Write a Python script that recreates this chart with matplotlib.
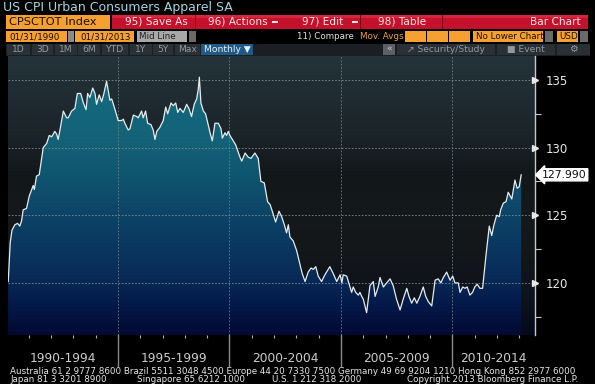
import numpy as np
import matplotlib
matplotlib.use("Agg")
from matplotlib import pyplot as plt
from matplotlib.patches import Rectangle, Polygon
from matplotlib.colors import LinearSegmentedColormap
import matplotlib.transforms as mtransforms

# CPI apparel (decimal year, index)
years = [1990.08, 1990.17, 1990.25, 1990.38, 1990.5, 1990.6, 1990.68, 1990.75, 1990.9,
         1991.02, 1991.2, 1991.25, 1991.35, 1991.47, 1991.65, 1991.8, 1991.92,
         1992.03, 1992.17, 1992.25, 1992.32, 1992.4, 1992.55, 1992.7, 1992.77, 1992.92,
         1993.07, 1993.18, 1993.33, 1993.45, 1993.57, 1993.64, 1993.74, 1993.87, 1993.97,
         1994.04, 1994.16, 1994.27, 1994.37, 1994.49, 1994.64, 1994.72, 1994.87,
         1995.01, 1995.17, 1995.24, 1995.31, 1995.46, 1995.54, 1995.69, 1995.84, 1995.91,
         1996.06, 1996.13, 1996.24, 1996.33, 1996.48, 1996.58, 1996.66, 1996.74, 1996.88,
         1997.03, 1997.14, 1997.23, 1997.38, 1997.48, 1997.59, 1997.68, 1997.78, 1997.93,
         1998.08, 1998.18, 1998.3, 1998.42, 1998.53, 1998.6, 1998.65, 1998.72, 1998.83, 1998.93,
         1999.13, 1999.23, 1999.35, 1999.5, 1999.62, 1999.68, 1999.8, 1999.87, 1999.95,
         2000.02, 2000.13, 2000.28, 2000.47, 2000.55, 2000.7, 2000.84, 2000.96,
         2001.14, 2001.29, 2001.41, 2001.56, 2001.71, 2001.82, 2001.92,
         2002.07, 2002.22, 2002.34, 2002.46, 2002.56, 2002.64, 2002.71, 2002.86,
         2003.01, 2003.16, 2003.26, 2003.39, 2003.53, 2003.66, 2003.76, 2003.87, 2003.98,
         2004.13, 2004.28, 2004.5, 2004.65, 2004.81, 2004.96,
         2005.04, 2005.1, 2005.26, 2005.33, 2005.48, 2005.55, 2005.66, 2005.78, 2005.85, 2005.93,
         2006.0, 2006.15, 2006.3, 2006.45, 2006.53, 2006.67, 2006.75, 2006.9,
         2007.05, 2007.2, 2007.34, 2007.49, 2007.65, 2007.79, 2007.95,
         2008.05, 2008.17, 2008.29, 2008.4, 2008.54, 2008.69, 2008.8, 2008.92,
         2009.07, 2009.22, 2009.36, 2009.48, 2009.59, 2009.74, 2009.89,
         2010.01, 2010.11, 2010.26, 2010.34, 2010.46, 2010.56, 2010.66, 2010.78, 2010.9,
         2011.0, 2011.11, 2011.23, 2011.35, 2011.5, 2011.65, 2011.76, 2011.86, 2011.98,
         2012.1, 2012.16, 2012.28, 2012.4, 2012.5, 2012.66, 2012.8, 2012.9, 2012.99, 2013.08]
cpi = [120.1, 123.0, 123.9, 124.3, 124.4, 124.2, 124.6, 125.4, 125.5,
       126.4, 127.2, 126.9, 127.9, 128.0, 130.0, 130.3, 130.9,
       130.8, 131.2, 131.0, 130.6, 131.3, 132.7, 132.2, 132.2, 132.7,
       132.9, 134.0, 134.0, 133.3, 132.8, 134.0, 133.7, 134.4, 134.0,
       133.2, 133.9, 133.4, 134.0, 134.9, 133.5, 133.6, 132.8,
       132.0, 132.0, 132.1, 131.8, 131.3, 131.4, 132.4, 132.3, 132.2,
       132.7, 132.2, 132.7, 131.8, 131.7, 131.3, 130.6, 131.2, 131.5,
       132.0, 133.0, 132.5, 133.3, 133.1, 133.3, 132.6, 132.9, 132.6,
       133.2, 132.9, 132.3, 133.2, 133.6, 134.3, 135.2, 133.3, 132.7, 132.5,
       131.1, 130.5, 131.8, 131.8, 131.4, 130.7, 131.1, 130.9, 131.2,
       130.9, 130.6, 130.2, 129.3, 129.0, 129.6, 129.3, 129.2,
       129.6, 129.2, 127.5, 127.4, 126.0, 125.8, 125.3,
       124.5, 125.3, 124.9, 124.3, 123.7, 124.3, 123.4, 123.1,
       122.4, 121.4, 120.7, 120.1, 120.8, 121.1, 121.0, 121.2, 120.5,
       120.1, 120.6, 121.2, 120.7, 120.1, 120.6,
       120.0, 120.6, 120.5, 120.1, 119.3, 119.7, 119.3, 119.1, 119.3, 119.0,
       118.8, 117.8, 119.8, 120.1, 119.0, 119.7, 120.4, 119.7,
       120.0, 120.3, 119.8, 118.8, 118.0, 118.8, 119.6,
       119.0, 118.5, 118.9, 118.5, 119.0, 119.7, 119.0, 118.6,
       118.3, 120.2, 120.3, 120.0, 120.4, 120.8, 120.2,
       120.5, 120.0, 120.0, 119.3, 119.7, 119.6, 119.7, 119.1, 119.3,
       119.7, 119.9, 119.6, 119.6, 122.0, 124.2, 123.5, 124.3, 125.0,
       124.9, 125.4, 125.9, 126.0, 126.7, 126.2, 127.6, 127.0, 127.1, 127.99]

y_ticks = [120, 125, 130, 135]
y_minor = [117.5, 122.5, 127.5, 132.5]
period_starts = [1995, 2000, 2005, 2010]
period_labels = ["1990-1994", "1995-1999", "2000-2004", "2005-2009", "2010-2014"]
last_label = "127.990"

W, H = 595, 384
fig = plt.figure(figsize=(W / 100, H / 100), dpi=100, facecolor="black")

# overlay in pixel coords for the terminal header/footer
ov = fig.add_axes([0, 0, 1, 1])
ov.set_xlim(0, W)
ov.set_ylim(H, 0)
ov.axis("off")


def box(x0, y0, x1, y1, fc, ec="none", lw=0):
    ov.add_patch(Rectangle((x0, y0), x1 - x0, y1 - y0, fc=fc, ec=ec, lw=lw))


def txt(x, y, s, color, size=7.5, ha="left", **kw):
    ov.text(x, y, s, color=color, fontsize=size, ha=ha, va="center", **kw)


# title row
txt(3, 7, "US CPI Urban Consumers Apparel SA", "#9fd6e2", 9.0)

# row 1: security box + red action bar
box(6, 15, 110, 29, "#f5a030")
txt(9, 22, "CPSCTOT Index", "#1a1000", 8.2)
box(112, 15, 588, 29, "#c4122c")
box(112, 15, 588, 18, "#d8253c")
for dx in [195, 360, 442]:
    box(dx, 15, dx + 1, 29, "#7a0010")
txt(125, 22, "95) Save As", "#f4e6e6", 7.6)
txt(208, 22, "96) Actions", "#f4e6e6", 7.6)
box(272, 21, 278, 23, "#f4e6e6")
txt(302, 22, "97) Edit", "#f4e6e6", 7.6)
box(352, 21, 358, 23, "#f4e6e6")
txt(378, 22, "98) Table", "#f4e6e6", 7.6)
txt(581, 22, "Bar Chart", "#f4e6e6", 7.6, ha="right")

# row 2: dates and options
fs2 = 6.3
box(6, 31, 67, 42, "#f5a030")
txt(9, 36.5, "01/31/1990", "#1a1000", fs2)
box(68, 31, 74, 42, "#8a8a8a")
box(75, 31, 134, 42, "#f5a030")
txt(80, 36.5, "01/31/2013", "#1a1000", fs2)
box(137, 31, 187, 42, "#a8a8a8")
txt(139, 36.5, "Mid Line", "#202020", fs2)
box(189, 31, 196, 42, "#6a6a6a")
txt(297, 36.5, "11) Compare", "#e0e0e0", fs2)
txt(360, 36.5, "Mov. Avgs", "#f0a030", fs2)
for bx in [405, 427, 449]:
    box(bx, 31, bx + 21, 42, "#f5a030")
box(473, 31, 543, 42, "#f5a030")
txt(476, 36.5, "No Lower Chart", "#1a1000", fs2)
box(545, 31, 553, 42, "#6a6a6a")
box(557, 31, 578, 42, "#f5a030")
txt(559, 36.5, "USD", "#1a1000", fs2)
box(580, 31, 588, 42, "#6a6a6a")

# row 3: period buttons
box(6, 44, 590, 56, "#1b1f23")
buttons = [("1D", 7, 30), ("3D", 32, 53), ("1M", 55, 77), ("6M", 78, 100),
           ("YTD", 102, 128), ("1Y", 130, 152), ("5Y", 153, 173), ("Max", 175, 200)]
for label, bx0, bx1 in buttons:
    box(bx0, 44, bx1, 55, "#2b3035")
    txt((bx0 + bx1) / 2, 49.5, label, "#8f9aa3", 6.6, ha="center")
box(201, 44, 253, 55, "#1f5a86")
txt(227, 49.5, "Monthly \u25bc", "#e8f0f8", 6.6, ha="center")
box(383, 44, 395, 55, "#5c6064")
txt(389, 49.5, "\u00ab", "#d0d0d0", 6.6, ha="center")
box(397, 44, 495, 55, "#2b3035")
txt(446, 49.5, "\u2197 Security/Study", "#8f9aa3", 6.6, ha="center")
box(497, 44, 555, 55, "#2b3035")
txt(526, 49.5, "\u25a0 Event", "#8f9aa3", 6.6, ha="center")
box(557, 44, 590, 55, "#2b3035")
txt(573, 49.5, "\u2699", "#8f9aa3", 7, ha="center")

# footer
fs = 6.3
txt(10, 371, "Australia 61 2 9777 8600 Brazil 5511 3048 4500 Europe 44 20 7330 7500 "
    "Germany 49 69 9204 1210 Hong Kong 852 2977 6000", "#e6e6e6", fs)
txt(10, 379, "Japan 81 3 3201 8900", "#e6e6e6", fs)
txt(137, 379, "Singapore 65 6212 1000", "#e6e6e6", fs)
txt(272, 379, "U.S. 1 212 318 2000", "#e6e6e6", fs)
txt(578, 379, "Copyright 2013 Bloomberg Finance L.P.", "#e6e6e6", fs, ha="right")

# main chart axes
x0, x1, top, bot = 8, 535, 56, 335
ax = fig.add_axes([x0 / W, 1 - bot / H, (x1 - x0) / W, (bot - top) / H])
xmin, xmax = 1990.07, 2013.70
ymin, ymax = 116.15, 136.77
ax.set_xlim(xmin, xmax)
ax.set_ylim(ymin, ymax)

bg_cmap = LinearSegmentedColormap.from_list("bg", [
    (0.0, "#050a1c"), (0.12, "#0e121c"), (0.3, "#131719"), (0.45, "#15191c"),
    (0.58, "#12171a"), (0.7, "#1a2328"), (0.82, "#1e2a30"), (1.0, "#24343a")])
fill_cmap = LinearSegmentedColormap.from_list("fill", [
    (0.0, "#020a32"), (0.1, "#041848"), (0.2, "#082a56"), (0.32, "#0a3760"),
    (0.45, "#0d4668"), (0.58, "#105670"), (0.7, "#136278"), (1.0, "#166e82")])
grad = np.linspace(0, 1, 256).reshape(-1, 1)
ax.imshow(grad, cmap=bg_cmap, aspect="auto", origin="lower",
          extent=[xmin, xmax, ymin, ymax], zorder=0)
im = ax.imshow(grad, cmap=fill_cmap, aspect="auto", origin="lower",
               extent=[xmin, xmax, ymin, ymax], zorder=1)
poly = Polygon(np.column_stack([[years[0]] + years + [years[-1]],
                                [ymin] + cpi + [ymin]]),
               closed=True, fc="none", ec="none", transform=ax.transData)
ax.add_patch(poly)
im.set_clip_path(poly)

ax.plot(years, cpi, color="#e6ecee", lw=0.9, zorder=4)

# grid
for yv in y_ticks:
    ax.axhline(yv, color="#7f8d92", lw=0.6, ls=(0, (2, 2)), zorder=3)
for xv in period_starts:
    ax.axvline(xv, color="#6f7f86", lw=0.6, ls=(0, (2, 2)), zorder=3)
    ax.axvline(xv, ymin=-0.11, ymax=0, color="#8a8a8a", lw=1.0, clip_on=False)

# axes styling
for s in ["top", "left", "bottom"]:
    ax.spines[s].set_visible(False)
ax.spines["right"].set_color("#c8c8c8")
ax.spines["right"].set_linewidth(1.0)
ax.yaxis.tick_right()
ax.set_yticks(y_ticks)
ax.set_yticks(y_minor, minor=True)
ax.tick_params(axis="y", which="major", length=0, pad=8, labelcolor="#e8e8e8",
               labelsize=8.5)
ax.tick_params(axis="y", which="minor", length=4, color="#c8c8c8", width=0.8)
ax.set_xticks(np.arange(1991, 2014))
ax.tick_params(axis="x", which="major", direction="out", length=2.5, color="#b0b0b0",
               width=0.8, labelbottom=False)

tr_right = mtransforms.blended_transform_factory(ax.transAxes, ax.transData)
ax.plot([1.0] * len(y_ticks), y_ticks, ls="none", marker=">", ms=5,
        color="#e8e8e8", transform=tr_right, clip_on=False, zorder=5)

# last value tag
ax.annotate(last_label, xy=(1.0, cpi[-1]), xycoords=tr_right,
            xytext=(5, 0), textcoords="offset points", ha="left", va="center",
            fontsize=7.8, color="#101010",
            bbox=dict(boxstyle="larrow,pad=0.1", fc="white", ec="white"))

# period labels below the axis
tr_low = mtransforms.blended_transform_factory(ax.transData, ax.transAxes)
edges = [xmin] + period_starts + [xmax]
for i, lab in enumerate(period_labels):
    ax.text((edges[i] + edges[i + 1]) / 2, -0.086, lab, transform=tr_low,
            ha="center", va="center", fontsize=8.8, color="#cccccc")

fig.savefig("out.png", dpi=100, facecolor="black")
